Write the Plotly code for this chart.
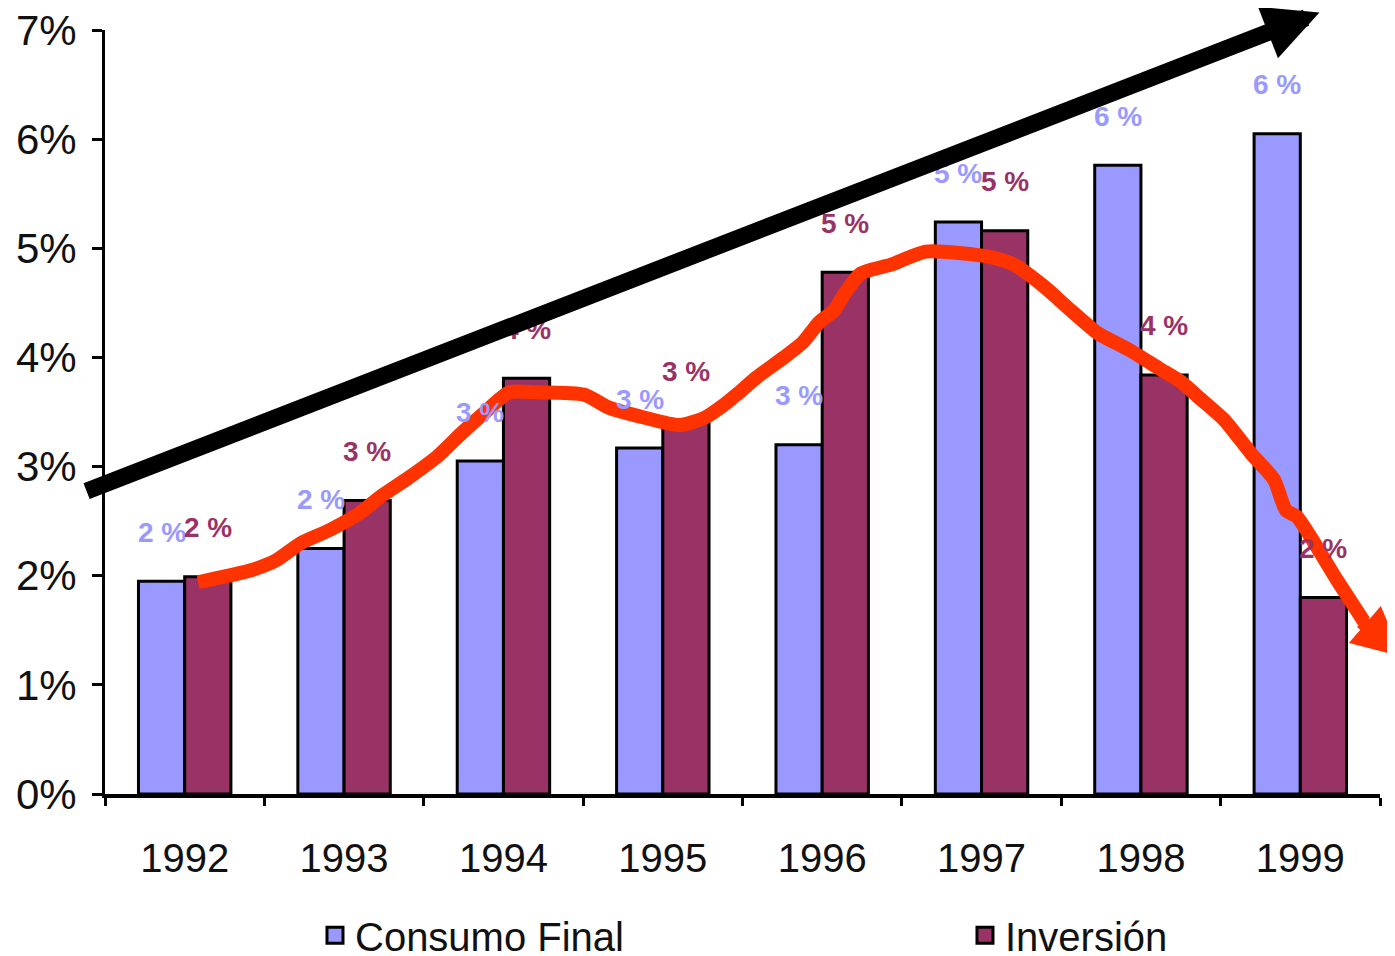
import plotly.graph_objects as go

# ---------------- data ----------------
years = ["1992", "1993", "1994", "1995", "1996", "1997", "1998", "1999"]
consumo_final = [1.95, 2.25, 3.05, 3.17, 3.20, 5.24, 5.76, 6.05]
inversion = [1.99, 2.69, 3.81, 3.42, 4.78, 5.16, 3.84, 1.80]
y_tick_vals = [0, 1, 2, 3, 4, 5, 6, 7]
y_tick_text = ["0%", "1%", "2%", "3%", "4%", "5%", "6%", "7%"]
series_names = ["Consumo Final", "Inversión"]

# hand-drawn red curve (x in category index units, y in %)
curve_x = [0.084, 0.416, 0.573, 0.730, 0.912, 1.094, 1.225, 1.407, 1.583, 1.740,
           1.878, 2.035, 2.211, 2.505, 2.662, 2.882, 3.108, 3.265, 3.396, 3.472,
           3.591, 3.760, 3.880, 3.980, 4.074, 4.143, 4.243, 4.432, 4.651, 5.059,
           5.204, 5.392, 5.561, 5.731, 5.925, 6.113, 6.258, 6.358, 6.521, 6.691,
           6.835, 6.910, 6.979, 7.105, 7.230, 7.324, 7.400]
curve_y = [1.94, 2.05, 2.14, 2.30, 2.42, 2.57, 2.72, 2.90, 3.09, 3.31,
           3.49, 3.68, 3.68, 3.66, 3.54, 3.45, 3.38, 3.45, 3.58, 3.67,
           3.82, 4.00, 4.14, 4.32, 4.43, 4.59, 4.77, 4.85, 4.97, 4.92,
           4.85, 4.65, 4.43, 4.22, 4.07, 3.90, 3.77, 3.64, 3.43, 3.12,
           2.88, 2.60, 2.54, 2.26, 1.96, 1.75, 1.58]
red_arrow_tail = (7.375, 1.59)
red_arrow_tip = (7.638, 1.26)

# black trend arrow
black_arrow_tail = (-0.625, 2.77)
black_arrow_tip = (7.12, 7.16)

# ---------------- style ----------------
C_CONS = "#9999FF"
C_INV = "#993366"
C_RED = "#FF3300"
FONT = "Liberation Sans, Arial, sans-serif"

fig = go.Figure()

fig.add_trace(go.Bar(x=years, y=consumo_final, name=series_names[0],
                     marker=dict(color=C_CONS, line=dict(color="black", width=3)),
                     showlegend=False))
fig.add_trace(go.Bar(x=years, y=inversion, name=series_names[1],
                     marker=dict(color=C_INV, line=dict(color="black", width=3)),
                     showlegend=False))

# red hand-drawn curve
fig.add_trace(go.Scatter(x=curve_x, y=curve_y, xaxis="x2", yaxis="y", mode="lines",
                         line=dict(color=C_RED, width=14, shape="spline", smoothing=0.6),
                         showlegend=False, hoverinfo="skip", cliponaxis=False))

# legend entries (one legend box per series so they can sit far apart)
for nm, col, lg in zip(series_names, [C_CONS, C_INV], ["legend", "legend2"]):
    fig.add_trace(go.Scatter(x=[None], y=[None], mode="markers", name=nm, legend=lg,
                             marker=dict(symbol="square", size=18, color=col,
                                         line=dict(color="black", width=3))))

annotations = []
n = len(years)
half = 0.145
for i in range(n):
    for vals, col, off in [(consumo_final, C_CONS, -half), (inversion, C_INV, half)]:
        annotations.append(dict(
            x=i + off, y=vals[i], xref="x2", yref="y", text=f"{vals[i]:.0f} %",
            showarrow=False, yshift=49, yanchor="middle", xanchor="center",
            font=dict(family=FONT, size=28, color=col, weight="bold")))

annotations.append(dict(
    x=black_arrow_tip[0], y=black_arrow_tip[1], ax=black_arrow_tail[0], ay=black_arrow_tail[1],
    xref="x2", yref="y", axref="x2", ayref="y", showarrow=True, text="",
    arrowhead=2, arrowsize=0.65, arrowwidth=17, arrowcolor="black", standoff=0))
annotations.append(dict(
    x=red_arrow_tip[0], y=red_arrow_tip[1], ax=red_arrow_tail[0], ay=red_arrow_tail[1],
    xref="x2", yref="y", axref="x2", ayref="y", showarrow=True, text="",
    arrowhead=2, arrowsize=0.7, arrowwidth=14, arrowcolor=C_RED, standoff=0))

legend_common = dict(orientation="h", xanchor="left", y=-0.185, yanchor="middle",
                     font=dict(family=FONT, size=40, color="#111111"),
                     bgcolor="rgba(0,0,0,0)")

fig.update_layout(
    width=1387, height=948,
    margin=dict(l=97, r=15, t=22, b=162, autoexpand=False),
    paper_bgcolor="white", plot_bgcolor="white",
    barmode="group", bargap=0.42, bargroupgap=0,
    font=dict(family=FONT, color="#111111", size=40),
    xaxis=dict(type="category", range=[-0.5, 7.5], tickson="boundaries",
               ticks="outside", ticklen=8, tickwidth=3, tickcolor="black",
               showline=True, linewidth=4, linecolor="black", showgrid=False,
               tickfont=dict(family=FONT, size=40, color="#111111"),
               ticklabelstandoff=26, ticklabeloverflow="allow"),
    xaxis2=dict(overlaying="x", anchor="y", range=[-0.5, 7.5], visible=False),
    yaxis=dict(range=[0, 7], tickvals=y_tick_vals, ticktext=y_tick_text,
               ticks="outside", ticklen=10, tickwidth=3, tickcolor="black",
               showline=True, linewidth=3, linecolor="black", showgrid=False,
               zeroline=False, tickfont=dict(family=FONT, size=42, color="#111111"),
               ticklabelstandoff=7, ticklabeloverflow="allow"),
    legend=dict(x=0.1647, **legend_common),
    legend2=dict(x=0.6745, **legend_common),
    annotations=annotations,
    showlegend=True,
)

fig.write_html("out.html")
